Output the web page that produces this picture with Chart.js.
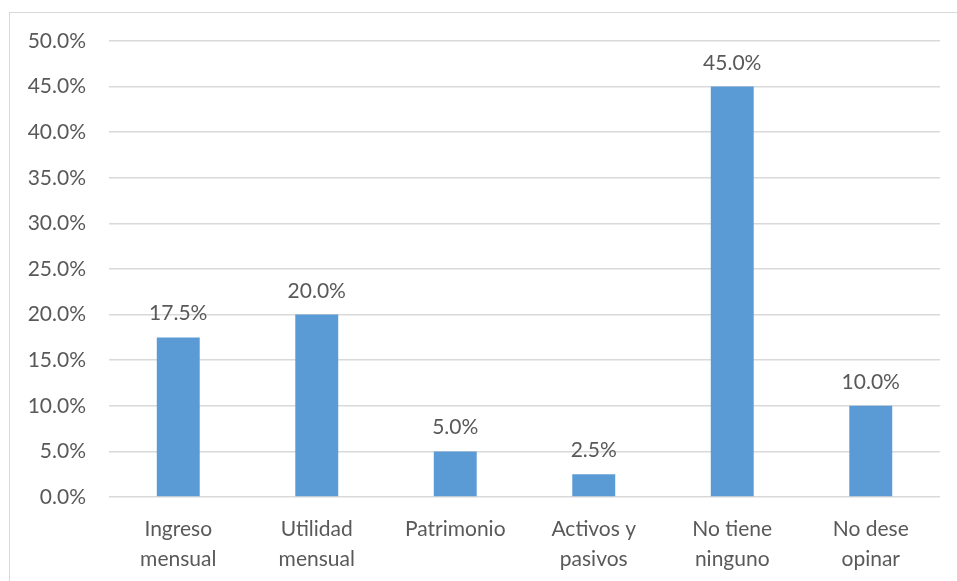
<!DOCTYPE html>
<html>
<head>
<meta charset="utf-8">
<script src="https://cdn.jsdelivr.net/npm/chart.js@4"></script>
<style>
    html, body { margin: 0; padding: 0; background: #fff; overflow: hidden; }
    .frame {
        position: absolute; left: 9px; top: 12px; width: 1000px; height: 600px;
        border-top: 1px solid #d9d9d9; border-left: 1px solid #d9d9d9;
    }
    .wrap { position: absolute; left: 0; top: 0; width: 957px; height: 581px; }
</style>
</head>
<body>
<div class="frame"></div>
<div class="wrap"><canvas id="respuestaChart"></canvas></div>
<script>
const categories = [
    ["Ingreso", "mensual"],
    ["Utilidad", "mensual"],
    ["Patrimonio"],
    ["Activos y", "pasivos"],
    ["No tiene", "ninguno"],
    ["No dese", "opinar"]
];
const percentages = [17.5, 20.0, 5.0, 2.5, 45.0, 10.0];
const yTicks = [0, 5, 10, 15, 20, 25, 30, 35, 40, 45, 50];

const textColor = "#595959";
const fontFamily = "Lato, 'Open Sans', sans-serif";

// draws the value on top of every bar
const valueLabels = {
    id: "valueLabels",
    afterDatasetsDraw(chart) {
        const ctx = chart.ctx;
        const meta = chart.getDatasetMeta(0);
        ctx.save();
        ctx.font = "21px " + fontFamily;
        ctx.fillStyle = textColor;
        ctx.textAlign = "center";
        ctx.textBaseline = "alphabetic";
        meta.data.forEach((bar, i) => {
            ctx.fillText(percentages[i].toFixed(1) + "%", bar.x, bar.y - 17);
        });
        ctx.restore();
    }
};

const ctx = document.getElementById("respuestaChart");

new Chart(ctx, {
    type: "bar",
    data: {
        labels: categories,
        datasets: [{
            data: percentages,
            backgroundColor: "#5b9bd5",
            barPercentage: 0.31,
            categoryPercentage: 1
        }]
    },
    options: {
        responsive: true,
        maintainAspectRatio: false,
        animation: false,
        layout: { padding: { top: 41, right: 17, left: 0, bottom: 0 } },
        plugins: {
            legend: { display: false },
            tooltip: { enabled: false }
        },
        scales: {
            x: {
                afterFit(scale) { scale.height = 84; },
                grid: { display: false },
                border: { display: false },
                ticks: {
                    color: textColor,
                    font: { family: fontFamily, size: 21, lineHeight: 1.4 },
                    padding: 10,
                    maxRotation: 0,
                    autoSkip: false
                }
            },
            y: {
                min: 0,
                max: 50,
                afterFit(scale) { scale.width = 109; },
                afterBuildTicks(scale) {
                    scale.ticks = yTicks.map(v => ({ value: v }));
                },
                grid: {
                    color: "#d9d9d9",
                    lineWidth: 1.5,
                    drawTicks: false
                },
                border: { display: false },
                ticks: {
                    color: textColor,
                    font: { family: fontFamily, size: 21 },
                    padding: 23,
                    callback: v => v.toFixed(1) + "%"
                }
            }
        }
    },
    plugins: [valueLabels]
});
</script>
</body>
</html>
